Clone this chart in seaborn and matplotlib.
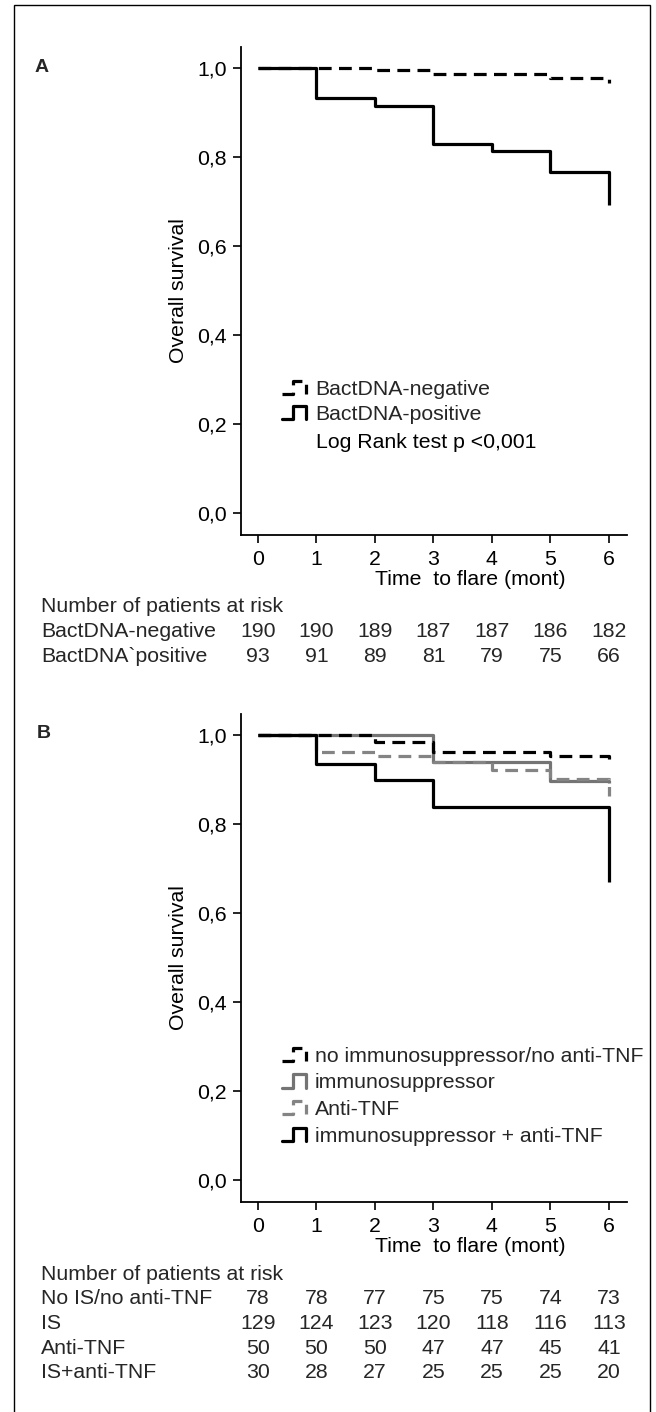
import numpy as np
import pandas as pd
import seaborn as sns
import matplotlib
matplotlib.use("Agg")
import matplotlib.pyplot as plt
import matplotlib.transforms as mtransforms
from matplotlib.lines import Line2D
from matplotlib.legend_handler import HandlerBase
from matplotlib.patches import Rectangle

# ---------------- data ----------------
months = [0, 1, 2, 3, 4, 5, 6]

a_negative = [1.0, 1.0, 0.995, 0.986, 0.986, 0.978, 0.967]
a_positive = [1.0, 0.933, 0.915, 0.829, 0.814, 0.767, 0.692]

b_none = [1.0, 1.0, 0.985, 0.962, 0.962, 0.952, 0.935]
b_is = [1.0, 1.0, 1.0, 0.940, 0.940, 0.897, 0.893]
b_anti = [1.0, 0.961, 0.953, 0.939, 0.921, 0.900, 0.862]
b_combo = [1.0, 0.935, 0.899, 0.838, 0.838, 0.838, 0.669]

a_names = ["BactDNA-negative", "BactDNA-positive"]
b_names = ["no immunosuppressor/no anti-TNF", "immunosuppressor", "Anti-TNF",
           "immunosuppressor + anti-TNF"]

ytick_values = [0.0, 0.2, 0.4, 0.6, 0.8, 1.0]
ytick_labels = ["0,0", "0,2", "0,4", "0,6", "0,8", "1,0"]

risk_title = "Number of patients at risk"
a_risk_labels = ["BactDNA-negative", "BactDNA`positive"]
a_risk = [[190, 190, 189, 187, 187, 186, 182],
          [93, 91, 89, 81, 79, 75, 66]]
b_risk_labels = ["No IS/no anti-TNF", "IS", "Anti-TNF", "IS+anti-TNF"]
b_risk = [[78, 78, 77, 75, 75, 74, 73],
          [129, 124, 123, 120, 118, 116, 113],
          [50, 50, 50, 47, 47, 45, 41],
          [30, 28, 27, 25, 25, 25, 20]]

log_rank_text = "Log Rank test p <0,001"
xlabel_text = "Time  to flare (mont)"
ylabel_text = "Overall survival"

# ---------------- style ----------------
sns.set_theme(style="white")
plt.rcParams["font.family"] = ["Liberation Sans", "DejaVu Sans"]
FS = 15.3
W, H = 656, 1412
fig = plt.figure(figsize=(W / 100, H / 100), dpi=100)


def fx(px):
    return px / W


def fy(py):
    return 1 - py / H


DASH = (4.0, 2.3)
BLACK = "#000000"
GRAY = "#747474"
GRAY2 = "#848484"


class StepHandler(HandlerBase):
    def create_artists(self, legend, orig_handle, xdescent, ydescent,
                       width, height, fontsize, trans):
        x = np.array([0.0, 0.47, 0.47, 1.0, 1.0]) * width - xdescent
        y = np.array([0.0, 0.0, 1.0, 1.0, 0.0]) * height - ydescent
        ln = Line2D(x, y)
        ln.update_from(orig_handle)
        ln.set_transform(trans)
        return [ln]


def draw_panel(ax_bottom_px, series, names, styles, letter, letter_pos,
               risk_labels, risk_rows, risk_y0, legend_spacing, extra_text=None):
    top_px = ax_bottom_px - 488
    ax = fig.add_axes([fx(241), fy(ax_bottom_px), fx(627) - fx(241),
                       fy(top_px) - fy(ax_bottom_px)])
    handles = []
    for vals, name, st in zip(series, names, styles):
        df = pd.DataFrame({"month": months, "surv": vals})
        sns.lineplot(data=df, x="month", y="surv", ax=ax, drawstyle="steps-post",
                     estimator=None, sort=False, errorbar=None,
                     color=st["color"], linewidth=st["lw"], zorder=st["z"])
        line = ax.lines[-1]
        if st["dashed"]:
            line.set_dashes(DASH)
        line.set_solid_capstyle("butt")
        h = Line2D([], [], color=st["color"], linewidth=st["lw"])
        if st["dashed"]:
            h.set_dashes(DASH)
        handles.append(h)

    ax.set_xlim(-0.29, 6.31)
    ax.set_ylim(-0.049, 1.047)
    ax.set_xticks(months)
    ax.set_xticklabels([str(m) for m in months])
    ax.set_yticks(ytick_values)
    ax.set_yticklabels(ytick_labels)
    ax.tick_params(axis="both", direction="out", length=6, width=1.2,
                   labelsize=FS, colors="black", pad=4)
    ax.tick_params(axis="x", pad=5)
    ax.tick_params(left=True, bottom=True)
    sns.despine(ax=ax)
    for s in ["left", "bottom"]:
        ax.spines[s].set_linewidth(1.3)
        ax.spines[s].set_color("black")
    ax.set_xlabel(xlabel_text, fontsize=FS, color="black")
    ax.xaxis.set_label_coords(0.593, -0.071)
    ax.set_ylabel(ylabel_text, fontsize=FS, color="black", labelpad=7)

    ax.legend(handles, names,
              handler_map={Line2D: StepHandler()}, frameon=False,
              loc="upper left", bbox_to_anchor=(0.106, 0.318),
              fontsize=FS, handlelength=1.15, handleheight=0.6,
              handletextpad=0.4, labelspacing=legend_spacing, borderpad=0,
              borderaxespad=0)
    if extra_text:
        fig.text(fx(316), fy(442), extra_text, fontsize=FS, ha="left",
                 va="center", color="black")

    fig.text(fx(letter_pos[0]), fy(letter_pos[1]), letter, fontsize=14,
             fontweight="bold", ha="center", va="center")

    tr = mtransforms.blended_transform_factory(ax.transData, fig.transFigure)
    fig.text(fx(41), fy(risk_y0), risk_title, fontsize=FS, ha="left", va="center")
    for i, (lab, row) in enumerate(zip(risk_labels, risk_rows)):
        yy = risk_y0 + 24.7 * (i + 1)
        fig.text(fx(41), fy(yy), lab, fontsize=FS, ha="left", va="center")
        for m, v in zip(months, row):
            ax.text(m, fy(yy), str(v), transform=tr, fontsize=FS,
                    ha="center", va="center", clip_on=False)
    return ax


styles_a = [dict(color=BLACK, lw=2.3, dashed=True, z=3),
            dict(color=BLACK, lw=2.3, dashed=False, z=4)]
draw_panel(535, [a_negative, a_positive], a_names, styles_a, "A", (42, 67),
           a_risk_labels, a_risk, 607, 0.30, extra_text=log_rank_text)

styles_b = [dict(color=BLACK, lw=2.3, dashed=True, z=4),
            dict(color=GRAY, lw=2.3, dashed=False, z=3),
            dict(color=GRAY2, lw=2.3, dashed=True, z=3),
            dict(color=BLACK, lw=2.3, dashed=False, z=5)]
draw_panel(1202, [b_none, b_is, b_anti, b_combo], b_names, styles_b, "B", (44, 734),
           b_risk_labels, b_risk, 1274, 0.36)

# outer frame
fig.add_artist(Rectangle((fx(14), -0.01), fx(650) - fx(14), fy(5) + 0.01,
                         transform=fig.transFigure, fill=False, lw=1.0,
                         edgecolor="black", clip_on=False))

fig.savefig("out.png", dpi=100)
